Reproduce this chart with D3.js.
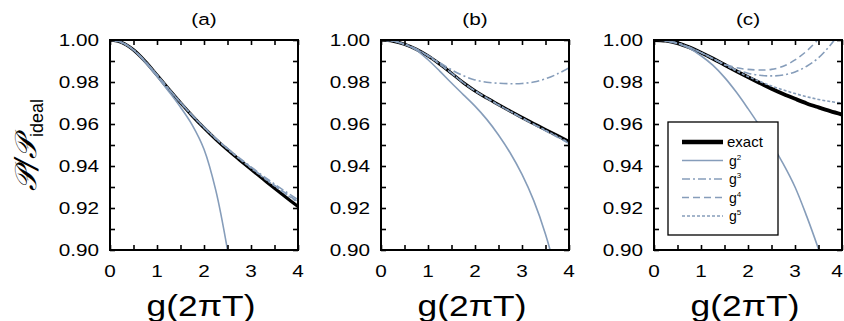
<!DOCTYPE html>
<html>
<head>
<meta charset="utf-8">
<script src="https://cdn.jsdelivr.net/npm/d3@7"></script>
<style>
  body { margin: 0; background: #fff; }
  svg { display: block; font-family: "Liberation Sans", Arial, Helvetica, sans-serif; }
</style>
</head>
<body>
<svg id="chart" width="844" height="321"></svg>
<script>
// shared x grid, g(2πT)
var xs = [0, 0.25, 0.5, 0.75, 1, 1.25, 1.5, 1.75, 2, 2.25, 2.5, 2.75, 3, 3.25, 3.5, 3.75, 4];

// panel (a)
var exactA = [1.0, 0.9988, 0.9953, 0.9898, 0.9833, 0.9766, 0.9701, 0.9639, 0.9581, 0.9527, 0.9477, 0.9430, 0.9384, 0.9339, 0.9294, 0.9250, 0.9207];
var g2A = [1.0, 0.9988, 0.9952, 0.9893, 0.9826, 0.9755, 0.9680, 0.9595, 0.9480, 0.9285, 0.9000, 0.8640, 0.8200, 0.7700, 0.7150, 0.6550, 0.5900];
var g3A = [1.0, 0.9988, 0.9953, 0.9898, 0.9834, 0.9767, 0.9703, 0.9642, 0.9585, 0.9532, 0.9484, 0.9439, 0.9396, 0.9354, 0.9314, 0.9276, 0.9240];
var g4A = [1.0, 0.9988, 0.9953, 0.9898, 0.9834, 0.9767, 0.9702, 0.9641, 0.9584, 0.9531, 0.9482, 0.9436, 0.9392, 0.9349, 0.9308, 0.9268, 0.9230];
var g5A = [1.0, 0.9988, 0.9953, 0.9898, 0.9833, 0.9767, 0.9702, 0.9640, 0.9583, 0.9530, 0.9481, 0.9435, 0.9390, 0.9347, 0.9305, 0.9265, 0.9226];

// panel (b)
var exactB = [1.0, 0.9995, 0.9980, 0.9956, 0.9924, 0.9885, 0.9842, 0.9797, 0.9758, 0.9724, 0.9692, 0.9661, 0.9631, 0.9602, 0.9573, 0.9545, 0.9517];
var g2B = [1.0, 0.9995, 0.9980, 0.9952, 0.9906, 0.9852, 0.9795, 0.9740, 0.9685, 0.9622, 0.9548, 0.9462, 0.9360, 0.9235, 0.9075, 0.8870, 0.8620];
var g3B = [1.0, 0.9995, 0.9980, 0.9957, 0.9927, 0.9892, 0.9858, 0.9830, 0.9810, 0.9799, 0.9794, 0.9792, 0.9793, 0.9800, 0.9815, 0.9838, 0.9868];
var g4B = [1.0, 0.9995, 0.9980, 0.9956, 0.9924, 0.9885, 0.9842, 0.9797, 0.9758, 0.9723, 0.9690, 0.9659, 0.9628, 0.9598, 0.9568, 0.9538, 0.9508];
var g5B = [1.0, 0.9995, 0.9980, 0.9956, 0.9924, 0.9885, 0.9842, 0.9797, 0.9758, 0.9724, 0.9691, 0.9660, 0.9629, 0.9599, 0.9570, 0.9541, 0.9512];

// panel (c)
var exactC = [1.0, 0.9997, 0.9985, 0.9965, 0.9940, 0.9912, 0.9882, 0.9852, 0.9823, 0.9795, 0.9768, 0.9743, 0.9720, 0.9698, 0.9679, 0.9661, 0.9645];
var g2C = [1.0, 0.9996, 0.9983, 0.9960, 0.9925, 0.9880, 0.9822, 0.9752, 0.9673, 0.9590, 0.9505, 0.9410, 0.9300, 0.9160, 0.9005, 0.8840, 0.8670];
var g3C = [1.0, 0.9997, 0.9985, 0.9965, 0.9940, 0.9912, 0.9883, 0.9858, 0.9842, 0.9832, 0.9829, 0.9833, 0.9848, 0.9875, 0.9915, 0.9975, 1.0050];
var g4C = [1.0, 0.9997, 0.9985, 0.9965, 0.9940, 0.9912, 0.9885, 0.9868, 0.9860, 0.9857, 0.9860, 0.9875, 0.9905, 0.9948, 1.0005, 1.0080, 1.0170];
var g5C = [1.0, 0.9997, 0.9985, 0.9965, 0.9940, 0.9912, 0.9882, 0.9853, 0.9826, 0.9803, 0.9781, 0.9762, 0.9745, 0.9730, 0.9717, 0.9707, 0.9700];

var panelNames = ['(a)', '(b)', '(c)'];
var panelLefts = [110, 381, 654];
var xTicks = [0, 1, 2, 3, 4];
var yTicks = [0.90, 0.92, 0.94, 0.96, 0.98, 1.00];
var legendLabels = ['exact', 'g', 'g', 'g', 'g'];
var legendPowers = ['', '2', '3', '4', '5'];

var blue = '#869dba';
var seriesStyles = [
  { color: '#000', width: 3.2, dash: null },
  { color: blue, width: 1.6, dash: null },
  { color: blue, width: 1.6, dash: '8,3,2,3' },
  { color: blue, width: 1.6, dash: '7,4' },
  { color: blue, width: 1.6, dash: '3,2' }
];

var panels = [
  [exactA, g2A, g3A, g4A, g5A],
  [exactB, g2B, g3B, g4B, g5B],
  [exactC, g2C, g3C, g4C, g5C]
];

var svg = d3.select('#chart');
var plotW = 188, plotH = 210, plotTop = 40;
var stretch = 1.22; // the source figure's lettering is wider than plain Arial

function wideText(sel, tx, ty, size, anchor, str) {
  return sel.append('text')
    .attr('transform', 'translate(' + tx + ',' + ty + ') scale(' + stretch + ',1)')
    .attr('text-anchor', anchor).attr('font-size', size).text(str);
}

function drawPanel(i) {
  var left = panelLefts[i];
  var g = svg.append('g').attr('transform', 'translate(' + left + ',' + plotTop + ')');

  var x = d3.scaleLinear().domain([0, 4]).range([0, plotW]);
  var y = d3.scaleLinear().domain([0.90, 1.00]).range([plotH, 0]);

  g.append('clipPath').attr('id', 'clip' + i)
    .append('rect').attr('width', plotW).attr('height', plotH);

  var line = d3.line()
    .x(function(d) { return x(d[0]); })
    .y(function(d) { return y(d[1]); })
    .curve(d3.curveCatmullRom);

  var curves = g.append('g').attr('clip-path', 'url(#clip' + i + ')');
  panels[i].forEach(function(vals, k) {
    var st = seriesStyles[k];
    curves.append('path')
      .datum(xs.map(function(v, j) { return [v, vals[j]]; }))
      .attr('d', line)
      .attr('fill', 'none')
      .attr('stroke', st.color)
      .attr('stroke-width', k === 0 && i === 2 ? 3.8 : st.width)
      .attr('stroke-dasharray', st.dash);
  });

  // inward ticks on all four sides
  var axB = d3.axisBottom(x).tickValues(d3.range(0, 4.01, 0.5)).tickSizeInner(-5).tickSizeOuter(0).tickFormat('');
  var axT = d3.axisTop(x).tickValues(d3.range(0, 4.01, 0.5)).tickSizeInner(-5).tickSizeOuter(0).tickFormat('');
  var axL = d3.axisLeft(y).tickValues(d3.range(0.90, 1.001, 0.01)).tickSizeInner(-5).tickSizeOuter(0).tickFormat('');
  var axR = d3.axisRight(y).tickValues(d3.range(0.90, 1.001, 0.01)).tickSizeInner(-5).tickSizeOuter(0).tickFormat('');
  g.append('g').attr('transform', 'translate(0,' + plotH + ')').call(axB);
  g.append('g').call(axT);
  g.append('g').call(axL);
  g.append('g').attr('transform', 'translate(' + plotW + ',0)').call(axR);
  g.selectAll('.domain').remove();
  g.selectAll('.tick line').attr('stroke', '#000').attr('stroke-width', 1.6);

  g.append('rect').attr('width', plotW).attr('height', plotH)
    .attr('fill', 'none').attr('stroke', '#000').attr('stroke-width', 2);

  // tick labels (last panel's "4" nudged in so it stays on the page)
  var maxLabelX = 844 - left - 7;
  xTicks.forEach(function(d) {
    wideText(g, Math.min(x(d), maxLabelX), plotH + 27, 17, 'middle', d);
  });
  yTicks.forEach(function(d) {
    wideText(g, -11, y(d) + 6, 17, 'end', d.toFixed(2));
  });

  wideText(g, plotW / 2, -15, 17, 'middle', panelNames[i]);
  wideText(g, plotW / 2 - 3, plotH + 66, 29, 'middle', 'g(2\u03c0T)');

  if (i === 2) drawLegend(g);
}

function drawLegend(g) {
  var lg = g.append('g').attr('transform', 'translate(14,82)');
  lg.append('rect').attr('width', 110).attr('height', 113)
    .attr('fill', '#fff').attr('stroke', '#000').attr('stroke-width', 1.3);
  legendLabels.forEach(function(lab, k) {
    var st = seriesStyles[k];
    var yy = 20 + k * 18.5;
    lg.append('line').attr('x1', 14).attr('x2', 55).attr('y1', yy).attr('y2', yy)
      .attr('stroke', st.color).attr('stroke-width', k === 0 ? 4.5 : st.width)
      .attr('stroke-dasharray', st.dash);
    var t = lg.append('text').attr('x', k === 0 ? 59 : 61).attr('y', yy + 5)
      .attr('font-size', k === 0 ? 15 : 14).text(lab);
    if (legendPowers[k]) {
      t.append('tspan').attr('dy', -6).attr('font-size', 8).text(legendPowers[k]);
    }
  });
}

[0, 1, 2].forEach(drawPanel);

// y axis label
var yl = svg.append('text')
  .attr('transform', 'translate(36,145) rotate(-90)')
  .attr('text-anchor', 'middle');
yl.append('tspan').attr('font-family', '"DejaVu Serif", serif').attr('font-style', 'italic')
  .attr('font-size', 30).text('\ud835\udcab/\ud835\udcab');
yl.append('tspan').attr('font-size', 18).attr('dy', 7).text('ideal');
</script>
</body>
</html>
